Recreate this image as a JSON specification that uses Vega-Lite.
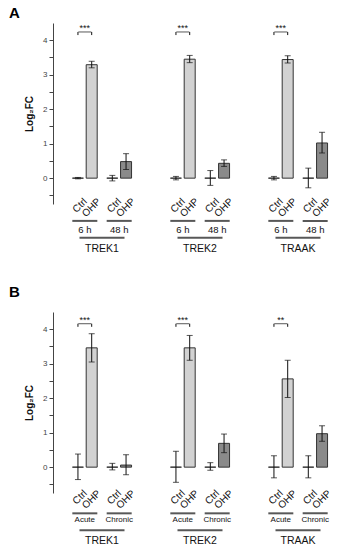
{
  "$schema": "https://vega.github.io/schema/vega-lite/v6.json",
  "padding": {"left": 9, "top": 6, "right": 0, "bottom": 0},
  "config": {"view": {"stroke": null}, "font": "Liberation Sans"},
  "spacing": 30,
  "resolve": {"scale": {"xOffset": "independent", "color": "independent", "x": "independent", "y": "independent"}},
  "datasets": {
    "barsA": [
      {"gene": "TREK1", "group": "Ctrl", "time": "6 h", "cond": "Ctrl 6 h", "mean": 0, "lo": -0.02, "hi": 0.02},
      {"gene": "TREK1", "group": "OHP", "time": "6 h", "cond": "OHP 6 h", "mean": 3.29, "lo": 3.2, "hi": 3.39},
      {"gene": "TREK1", "group": "Ctrl", "time": "48 h", "cond": "Ctrl 48 h", "mean": 0, "lo": -0.08, "hi": 0.08},
      {"gene": "TREK1", "group": "OHP", "time": "48 h", "cond": "OHP 48 h", "mean": 0.48, "lo": 0.25, "hi": 0.71},
      {"gene": "TREK2", "group": "Ctrl", "time": "6 h", "cond": "Ctrl 6 h", "mean": 0, "lo": -0.05, "hi": 0.05},
      {"gene": "TREK2", "group": "OHP", "time": "6 h", "cond": "OHP 6 h", "mean": 3.45, "lo": 3.35, "hi": 3.56},
      {"gene": "TREK2", "group": "Ctrl", "time": "48 h", "cond": "Ctrl 48 h", "mean": 0, "lo": -0.21, "hi": 0.22},
      {"gene": "TREK2", "group": "OHP", "time": "48 h", "cond": "OHP 48 h", "mean": 0.43, "lo": 0.34, "hi": 0.53},
      {"gene": "TRAAK", "group": "Ctrl", "time": "6 h", "cond": "Ctrl 6 h", "mean": 0, "lo": -0.05, "hi": 0.05},
      {"gene": "TRAAK", "group": "OHP", "time": "6 h", "cond": "OHP 6 h", "mean": 3.44, "lo": 3.34, "hi": 3.55},
      {"gene": "TRAAK", "group": "Ctrl", "time": "48 h", "cond": "Ctrl 48 h", "mean": 0, "lo": -0.28, "hi": 0.29},
      {"gene": "TRAAK", "group": "OHP", "time": "48 h", "cond": "OHP 48 h", "mean": 1.02, "lo": 0.73, "hi": 1.33}
    ],
    "timesA": [
      {"gene": "TREK1", "time": "6 h"}, {"gene": "TREK1", "time": "48 h"},
      {"gene": "TREK2", "time": "6 h"}, {"gene": "TREK2", "time": "48 h"},
      {"gene": "TRAAK", "time": "6 h"}, {"gene": "TRAAK", "time": "48 h"}
    ],
    "sigA": [
      {"gene": "TREK1", "time": "6 h", "stars": "***"},
      {"gene": "TREK2", "time": "6 h", "stars": "***"},
      {"gene": "TRAAK", "time": "6 h", "stars": "***"}
    ],
    "barsB": [
      {"gene": "TREK1", "group": "Ctrl", "time": "Acute", "cond": "Ctrl Acute", "mean": 0, "lo": -0.36, "hi": 0.38},
      {"gene": "TREK1", "group": "OHP", "time": "Acute", "cond": "OHP Acute", "mean": 3.46, "lo": 3.05, "hi": 3.87},
      {"gene": "TREK1", "group": "Ctrl", "time": "Chronic", "cond": "Ctrl Chronic", "mean": 0, "lo": -0.08, "hi": 0.11},
      {"gene": "TREK1", "group": "OHP", "time": "Chronic", "cond": "OHP Chronic", "mean": 0.06, "lo": -0.22, "hi": 0.36},
      {"gene": "TREK2", "group": "Ctrl", "time": "Acute", "cond": "Ctrl Acute", "mean": 0, "lo": -0.44, "hi": 0.46},
      {"gene": "TREK2", "group": "OHP", "time": "Acute", "cond": "OHP Acute", "mean": 3.46, "lo": 3.1, "hi": 3.82},
      {"gene": "TREK2", "group": "Ctrl", "time": "Chronic", "cond": "Ctrl Chronic", "mean": 0, "lo": -0.09, "hi": 0.13},
      {"gene": "TREK2", "group": "OHP", "time": "Chronic", "cond": "OHP Chronic", "mean": 0.69, "lo": 0.42, "hi": 0.96},
      {"gene": "TRAAK", "group": "Ctrl", "time": "Acute", "cond": "Ctrl Acute", "mean": 0, "lo": -0.31, "hi": 0.33},
      {"gene": "TRAAK", "group": "OHP", "time": "Acute", "cond": "OHP Acute", "mean": 2.56, "lo": 2.02, "hi": 3.1},
      {"gene": "TRAAK", "group": "Ctrl", "time": "Chronic", "cond": "Ctrl Chronic", "mean": 0, "lo": -0.31, "hi": 0.33},
      {"gene": "TRAAK", "group": "OHP", "time": "Chronic", "cond": "OHP Chronic", "mean": 0.97, "lo": 0.75, "hi": 1.2}
    ],
    "timesB": [
      {"gene": "TREK1", "time": "Acute"}, {"gene": "TREK1", "time": "Chronic"},
      {"gene": "TREK2", "time": "Acute"}, {"gene": "TREK2", "time": "Chronic"},
      {"gene": "TRAAK", "time": "Acute"}, {"gene": "TRAAK", "time": "Chronic"}
    ],
    "sigB": [
      {"gene": "TREK1", "time": "Acute", "stars": "***"},
      {"gene": "TREK2", "time": "Acute", "stars": "***"},
      {"gene": "TRAAK", "time": "Acute", "stars": "**"}
    ]
  },
  "vconcat": [
    {
      "width": 294, "height": 181,
      "title": {"text": "A", "anchor": "start", "frame": "bounds", "fontSize": 15, "fontWeight": "bold", "dx": -15, "offset": 2},
      "resolve": {"axis": {"y": "independent"}},
      "layer": [
        {"mark": {"type": "rule", "color": "#bdbdbd", "strokeWidth": 1}, "encoding": {"y": {"datum": 0, "type": "quantitative", "axis": null}}},
        {
          "data": {"name": "barsA"},
          "mark": {"type": "bar", "width": 11, "stroke": "#333", "strokeWidth": 1},
          "encoding": {
            "x": {"field": "gene", "type": "nominal", "axis": null, "scale": {"type": "band", "domain": ["TREK1", "TREK2", "TRAAK"], "paddingInner": 0.439, "paddingOuter": 0.2195}},
            "xOffset": {"field": "cond", "type": "nominal", "scale": {"type": "band", "domain": ["Ctrl 6 h", "6 h", "OHP 6 h", "gap1", "gap2", "Ctrl 48 h", "48 h", "OHP 48 h"], "paddingInner": 0, "paddingOuter": 0}},
            "y": {"field": "mean", "type": "quantitative", "title": "Log₂FC",
              "scale": {"domain": [-0.75, 4.5], "nice": false, "zero": false},
              "axis": {"orient": "left", "values": [0, 1, 2, 3, 4], "format": "d", "labelOverlap": false, "minExtent": 10, "maxExtent": 10, "grid": false, "tickSize": 4, "labelPadding": 2, "labelFontSize": 8, "labelColor": "#444", "domainColor": "#444", "tickColor": "#444", "titleFontSize": 10, "titleFontWeight": "bold", "titleColor": "#111", "titlePadding": 9}},
            "color": {"field": "time", "type": "nominal", "scale": {"domain": ["6 h", "48 h"], "range": ["#d2d2d2", "#8a8a8a"]}, "legend": null}
          }
        },
        {
          "data": {"name": "barsA"},
          "mark": {"type": "rule", "color": "#111", "strokeWidth": 1},
          "encoding": {
            "x": {"field": "gene", "type": "nominal", "axis": null, "scale": {"type": "band", "domain": ["TREK1", "TREK2", "TRAAK"], "paddingInner": 0.439, "paddingOuter": 0.2195}},
            "xOffset": {"field": "cond", "type": "nominal", "scale": {"type": "band", "domain": ["Ctrl 6 h", "6 h", "OHP 6 h", "gap1", "gap2", "Ctrl 48 h", "48 h", "OHP 48 h"], "paddingInner": 0, "paddingOuter": 0}},
            "y": {"field": "lo", "type": "quantitative", "axis": {"orient": "left", "values": [-0.5, 0.5, 1.5, 2.5, 3.5], "labels": false, "domain": false, "grid": false, "tickSize": 4, "tickColor": "#444", "title": null, "minExtent": 10, "maxExtent": 10}},
            "y2": {"field": "hi"}
          }
        },
        {
          "data": {"name": "barsA"},
          "mark": {"type": "tick", "orient": "horizontal", "size": 6, "thickness": 1, "color": "#111"},
          "encoding": {
            "x": {"field": "gene", "type": "nominal", "axis": null, "scale": {"type": "band", "domain": ["TREK1", "TREK2", "TRAAK"], "paddingInner": 0.439, "paddingOuter": 0.2195}},
            "xOffset": {"field": "cond", "type": "nominal", "scale": {"type": "band", "domain": ["Ctrl 6 h", "6 h", "OHP 6 h", "gap1", "gap2", "Ctrl 48 h", "48 h", "OHP 48 h"], "paddingInner": 0, "paddingOuter": 0}},
            "y": {"field": "lo", "type": "quantitative", "axis": null}}
        },
        {
          "data": {"name": "barsA"},
          "mark": {"type": "tick", "orient": "horizontal", "size": 6, "thickness": 1, "color": "#111"},
          "encoding": {
            "x": {"field": "gene", "type": "nominal", "axis": null, "scale": {"type": "band", "domain": ["TREK1", "TREK2", "TRAAK"], "paddingInner": 0.439, "paddingOuter": 0.2195}},
            "xOffset": {"field": "cond", "type": "nominal", "scale": {"type": "band", "domain": ["Ctrl 6 h", "6 h", "OHP 6 h", "gap1", "gap2", "Ctrl 48 h", "48 h", "OHP 48 h"], "paddingInner": 0, "paddingOuter": 0}},
            "y": {"field": "hi", "type": "quantitative", "axis": null}}
        },
        {
          "data": {"name": "sigA"},
          "mark": {"type": "tick", "orient": "horizontal", "size": 13, "thickness": 1, "color": "#111"},
          "encoding": {
            "x": {"field": "gene", "type": "nominal", "axis": null, "scale": {"type": "band", "domain": ["TREK1", "TREK2", "TRAAK"], "paddingInner": 0.439, "paddingOuter": 0.2195}},
            "xOffset": {"field": "time", "type": "nominal", "scale": {"type": "band", "domain": ["Ctrl 6 h", "6 h", "OHP 6 h", "gap1", "gap2", "Ctrl 48 h", "48 h", "OHP 48 h"], "paddingInner": 0, "paddingOuter": 0}},
            "y": {"datum": 4.24, "axis": null}}
        },
        {
          "data": {"name": "barsA"},
          "transform": [{"filter": "datum.time === '6 h'"}],
          "mark": {"type": "rule", "color": "#111", "strokeWidth": 1},
          "encoding": {
            "x": {"field": "gene", "type": "nominal", "axis": null, "scale": {"type": "band", "domain": ["TREK1", "TREK2", "TRAAK"], "paddingInner": 0.439, "paddingOuter": 0.2195}},
            "xOffset": {"field": "cond", "type": "nominal", "scale": {"type": "band", "domain": ["Ctrl 6 h", "6 h", "OHP 6 h", "gap1", "gap2", "Ctrl 48 h", "48 h", "OHP 48 h"], "paddingInner": 0, "paddingOuter": 0}},
            "y": {"datum": 4.15, "axis": null}, "y2": {"datum": 4.24}}
        },
        {
          "data": {"name": "sigA"},
          "mark": {"type": "text", "fontSize": 9, "baseline": "alphabetic", "dy": -1, "color": "#111"},
          "encoding": {
            "x": {"field": "gene", "type": "nominal", "axis": null, "scale": {"type": "band", "domain": ["TREK1", "TREK2", "TRAAK"], "paddingInner": 0.439, "paddingOuter": 0.2195}},
            "xOffset": {"field": "time", "type": "nominal", "scale": {"type": "band", "domain": ["Ctrl 6 h", "6 h", "OHP 6 h", "gap1", "gap2", "Ctrl 48 h", "48 h", "OHP 48 h"], "paddingInner": 0, "paddingOuter": 0}},
            "y": {"datum": 4.24, "axis": null}, "text": {"field": "stars"}}
        },
        {
          "data": {"name": "barsA"},
          "mark": {"type": "text", "fontSize": 10, "angle": 315, "align": "right", "baseline": "middle", "dx": 6.4, "dy": 4.2, "color": "#111"},
          "encoding": {
            "x": {"field": "gene", "type": "nominal", "axis": null, "scale": {"type": "band", "domain": ["TREK1", "TREK2", "TRAAK"], "paddingInner": 0.439, "paddingOuter": 0.2195}},
            "xOffset": {"field": "cond", "type": "nominal", "scale": {"type": "band", "domain": ["Ctrl 6 h", "6 h", "OHP 6 h", "gap1", "gap2", "Ctrl 48 h", "48 h", "OHP 48 h"], "paddingInner": 0, "paddingOuter": 0}},
            "y": {"datum": -0.68, "axis": null}, "text": {"field": "group"}}
        },
        {
          "data": {"name": "timesA"},
          "mark": {"type": "tick", "orient": "horizontal", "size": 25, "thickness": 2, "color": "#111"},
          "encoding": {
            "x": {"field": "gene", "type": "nominal", "axis": null, "scale": {"type": "band", "domain": ["TREK1", "TREK2", "TRAAK"], "paddingInner": 0.439, "paddingOuter": 0.2195}},
            "xOffset": {"field": "time", "type": "nominal", "scale": {"type": "band", "domain": ["Ctrl 6 h", "6 h", "OHP 6 h", "gap1", "gap2", "Ctrl 48 h", "48 h", "OHP 48 h"], "paddingInner": 0, "paddingOuter": 0}},
            "y": {"datum": -1.24, "axis": null}}
        },
        {
          "data": {"name": "timesA"},
          "mark": {"type": "text", "fontSize": 9.5, "baseline": "middle", "color": "#111"},
          "encoding": {
            "x": {"field": "gene", "type": "nominal", "axis": null, "scale": {"type": "band", "domain": ["TREK1", "TREK2", "TRAAK"], "paddingInner": 0.439, "paddingOuter": 0.2195}},
            "xOffset": {"field": "time", "type": "nominal", "scale": {"type": "band", "domain": ["Ctrl 6 h", "6 h", "OHP 6 h", "gap1", "gap2", "Ctrl 48 h", "48 h", "OHP 48 h"], "paddingInner": 0, "paddingOuter": 0}},
            "y": {"datum": -1.5, "axis": null}, "text": {"field": "time"}}
        },
        {
          "data": {"name": "sigA"},
          "mark": {"type": "tick", "orient": "horizontal", "size": 45, "thickness": 2, "color": "#111"},
          "encoding": {
            "x": {"field": "gene", "type": "nominal", "axis": null, "scale": {"type": "band", "domain": ["TREK1", "TREK2", "TRAAK"], "paddingInner": 0.439, "paddingOuter": 0.2195}},
            "y": {"datum": -1.73, "axis": null}}
        },
        {
          "data": {"name": "sigA"},
          "mark": {"type": "text", "fontSize": 10.5, "baseline": "middle", "color": "#111"},
          "encoding": {
            "x": {"field": "gene", "type": "nominal", "axis": null, "scale": {"type": "band", "domain": ["TREK1", "TREK2", "TRAAK"], "paddingInner": 0.439, "paddingOuter": 0.2195}},
            "y": {"datum": -2.05, "axis": null}, "text": {"field": "gene"}}
        }
      ]
    },
    {
      "width": 294, "height": 181,
      "title": {"text": "B", "anchor": "start", "frame": "bounds", "fontSize": 15, "fontWeight": "bold", "dx": -15, "offset": 12},
      "resolve": {"axis": {"y": "independent"}},
      "layer": [
        {"mark": {"type": "rule", "color": "#bdbdbd", "strokeWidth": 1}, "encoding": {"y": {"datum": 0, "type": "quantitative", "axis": null}}},
        {
          "data": {"name": "barsB"},
          "mark": {"type": "bar", "width": 11, "stroke": "#333", "strokeWidth": 1},
          "encoding": {
            "x": {"field": "gene", "type": "nominal", "axis": null, "scale": {"type": "band", "domain": ["TREK1", "TREK2", "TRAAK"], "paddingInner": 0.439, "paddingOuter": 0.2195}},
            "xOffset": {"field": "cond", "type": "nominal", "scale": {"type": "band", "domain": ["Ctrl Acute", "Acute", "OHP Acute", "gap1", "gap2", "Ctrl Chronic", "Chronic", "OHP Chronic"], "paddingInner": 0, "paddingOuter": 0}},
            "y": {"field": "mean", "type": "quantitative", "title": "Log₂FC",
              "scale": {"domain": [-0.75, 4.5], "nice": false, "zero": false},
              "axis": {"orient": "left", "values": [0, 1, 2, 3, 4], "format": "d", "labelOverlap": false, "minExtent": 10, "maxExtent": 10, "grid": false, "tickSize": 4, "labelPadding": 2, "labelFontSize": 8, "labelColor": "#444", "domainColor": "#444", "tickColor": "#444", "titleFontSize": 10, "titleFontWeight": "bold", "titleColor": "#111", "titlePadding": 9}},
            "color": {"field": "time", "type": "nominal", "scale": {"domain": ["Acute", "Chronic"], "range": ["#d2d2d2", "#8a8a8a"]}, "legend": null}
          }
        },
        {
          "data": {"name": "barsB"},
          "mark": {"type": "rule", "color": "#111", "strokeWidth": 1},
          "encoding": {
            "x": {"field": "gene", "type": "nominal", "axis": null, "scale": {"type": "band", "domain": ["TREK1", "TREK2", "TRAAK"], "paddingInner": 0.439, "paddingOuter": 0.2195}},
            "xOffset": {"field": "cond", "type": "nominal", "scale": {"type": "band", "domain": ["Ctrl Acute", "Acute", "OHP Acute", "gap1", "gap2", "Ctrl Chronic", "Chronic", "OHP Chronic"], "paddingInner": 0, "paddingOuter": 0}},
            "y": {"field": "lo", "type": "quantitative", "axis": {"orient": "left", "values": [-0.5, 0.5, 1.5, 2.5, 3.5], "labels": false, "domain": false, "grid": false, "tickSize": 4, "tickColor": "#444", "title": null, "minExtent": 10, "maxExtent": 10}},
            "y2": {"field": "hi"}
          }
        },
        {
          "data": {"name": "barsB"},
          "mark": {"type": "tick", "orient": "horizontal", "size": 6, "thickness": 1, "color": "#111"},
          "encoding": {
            "x": {"field": "gene", "type": "nominal", "axis": null, "scale": {"type": "band", "domain": ["TREK1", "TREK2", "TRAAK"], "paddingInner": 0.439, "paddingOuter": 0.2195}},
            "xOffset": {"field": "cond", "type": "nominal", "scale": {"type": "band", "domain": ["Ctrl Acute", "Acute", "OHP Acute", "gap1", "gap2", "Ctrl Chronic", "Chronic", "OHP Chronic"], "paddingInner": 0, "paddingOuter": 0}},
            "y": {"field": "lo", "type": "quantitative", "axis": null}}
        },
        {
          "data": {"name": "barsB"},
          "mark": {"type": "tick", "orient": "horizontal", "size": 6, "thickness": 1, "color": "#111"},
          "encoding": {
            "x": {"field": "gene", "type": "nominal", "axis": null, "scale": {"type": "band", "domain": ["TREK1", "TREK2", "TRAAK"], "paddingInner": 0.439, "paddingOuter": 0.2195}},
            "xOffset": {"field": "cond", "type": "nominal", "scale": {"type": "band", "domain": ["Ctrl Acute", "Acute", "OHP Acute", "gap1", "gap2", "Ctrl Chronic", "Chronic", "OHP Chronic"], "paddingInner": 0, "paddingOuter": 0}},
            "y": {"field": "hi", "type": "quantitative", "axis": null}}
        },
        {
          "data": {"name": "sigB"},
          "mark": {"type": "tick", "orient": "horizontal", "size": 13, "thickness": 1, "color": "#111"},
          "encoding": {
            "x": {"field": "gene", "type": "nominal", "axis": null, "scale": {"type": "band", "domain": ["TREK1", "TREK2", "TRAAK"], "paddingInner": 0.439, "paddingOuter": 0.2195}},
            "xOffset": {"field": "time", "type": "nominal", "scale": {"type": "band", "domain": ["Ctrl Acute", "Acute", "OHP Acute", "gap1", "gap2", "Ctrl Chronic", "Chronic", "OHP Chronic"], "paddingInner": 0, "paddingOuter": 0}},
            "y": {"datum": 4.16, "axis": null}}
        },
        {
          "data": {"name": "barsB"},
          "transform": [{"filter": "datum.time === 'Acute'"}],
          "mark": {"type": "rule", "color": "#111", "strokeWidth": 1},
          "encoding": {
            "x": {"field": "gene", "type": "nominal", "axis": null, "scale": {"type": "band", "domain": ["TREK1", "TREK2", "TRAAK"], "paddingInner": 0.439, "paddingOuter": 0.2195}},
            "xOffset": {"field": "cond", "type": "nominal", "scale": {"type": "band", "domain": ["Ctrl Acute", "Acute", "OHP Acute", "gap1", "gap2", "Ctrl Chronic", "Chronic", "OHP Chronic"], "paddingInner": 0, "paddingOuter": 0}},
            "y": {"datum": 4.07, "axis": null}, "y2": {"datum": 4.16}}
        },
        {
          "data": {"name": "sigB"},
          "mark": {"type": "text", "fontSize": 9, "baseline": "alphabetic", "dy": -1, "color": "#111"},
          "encoding": {
            "x": {"field": "gene", "type": "nominal", "axis": null, "scale": {"type": "band", "domain": ["TREK1", "TREK2", "TRAAK"], "paddingInner": 0.439, "paddingOuter": 0.2195}},
            "xOffset": {"field": "time", "type": "nominal", "scale": {"type": "band", "domain": ["Ctrl Acute", "Acute", "OHP Acute", "gap1", "gap2", "Ctrl Chronic", "Chronic", "OHP Chronic"], "paddingInner": 0, "paddingOuter": 0}},
            "y": {"datum": 4.16, "axis": null}, "text": {"field": "stars"}}
        },
        {
          "data": {"name": "barsB"},
          "mark": {"type": "text", "fontSize": 10, "angle": 315, "align": "right", "baseline": "middle", "dx": 6.4, "dy": 4.2, "color": "#111"},
          "encoding": {
            "x": {"field": "gene", "type": "nominal", "axis": null, "scale": {"type": "band", "domain": ["TREK1", "TREK2", "TRAAK"], "paddingInner": 0.439, "paddingOuter": 0.2195}},
            "xOffset": {"field": "cond", "type": "nominal", "scale": {"type": "band", "domain": ["Ctrl Acute", "Acute", "OHP Acute", "gap1", "gap2", "Ctrl Chronic", "Chronic", "OHP Chronic"], "paddingInner": 0, "paddingOuter": 0}},
            "y": {"datum": -0.76, "axis": null}, "text": {"field": "group"}}
        },
        {
          "data": {"name": "timesB"},
          "mark": {"type": "tick", "orient": "horizontal", "size": 25, "thickness": 2, "color": "#111"},
          "encoding": {
            "x": {"field": "gene", "type": "nominal", "axis": null, "scale": {"type": "band", "domain": ["TREK1", "TREK2", "TRAAK"], "paddingInner": 0.439, "paddingOuter": 0.2195}},
            "xOffset": {"field": "time", "type": "nominal", "scale": {"type": "band", "domain": ["Ctrl Acute", "Acute", "OHP Acute", "gap1", "gap2", "Ctrl Chronic", "Chronic", "OHP Chronic"], "paddingInner": 0, "paddingOuter": 0}},
            "y": {"datum": -1.34, "axis": null}}
        },
        {
          "data": {"name": "timesB"},
          "mark": {"type": "text", "fontSize": 8, "baseline": "middle", "color": "#111"},
          "encoding": {
            "x": {"field": "gene", "type": "nominal", "axis": null, "scale": {"type": "band", "domain": ["TREK1", "TREK2", "TRAAK"], "paddingInner": 0.439, "paddingOuter": 0.2195}},
            "xOffset": {"field": "time", "type": "nominal", "scale": {"type": "band", "domain": ["Ctrl Acute", "Acute", "OHP Acute", "gap1", "gap2", "Ctrl Chronic", "Chronic", "OHP Chronic"], "paddingInner": 0, "paddingOuter": 0}},
            "y": {"datum": -1.54, "axis": null}, "text": {"field": "time"}}
        },
        {
          "data": {"name": "sigB"},
          "mark": {"type": "tick", "orient": "horizontal", "size": 45, "thickness": 2, "color": "#111"},
          "encoding": {
            "x": {"field": "gene", "type": "nominal", "axis": null, "scale": {"type": "band", "domain": ["TREK1", "TREK2", "TRAAK"], "paddingInner": 0.439, "paddingOuter": 0.2195}},
            "y": {"datum": -1.83, "axis": null}}
        },
        {
          "data": {"name": "sigB"},
          "mark": {"type": "text", "fontSize": 10.5, "baseline": "middle", "color": "#111"},
          "encoding": {
            "x": {"field": "gene", "type": "nominal", "axis": null, "scale": {"type": "band", "domain": ["TREK1", "TREK2", "TRAAK"], "paddingInner": 0.439, "paddingOuter": 0.2195}},
            "y": {"datum": -2.14, "axis": null}, "text": {"field": "gene"}}
        }
      ]
    }
  ]
}
